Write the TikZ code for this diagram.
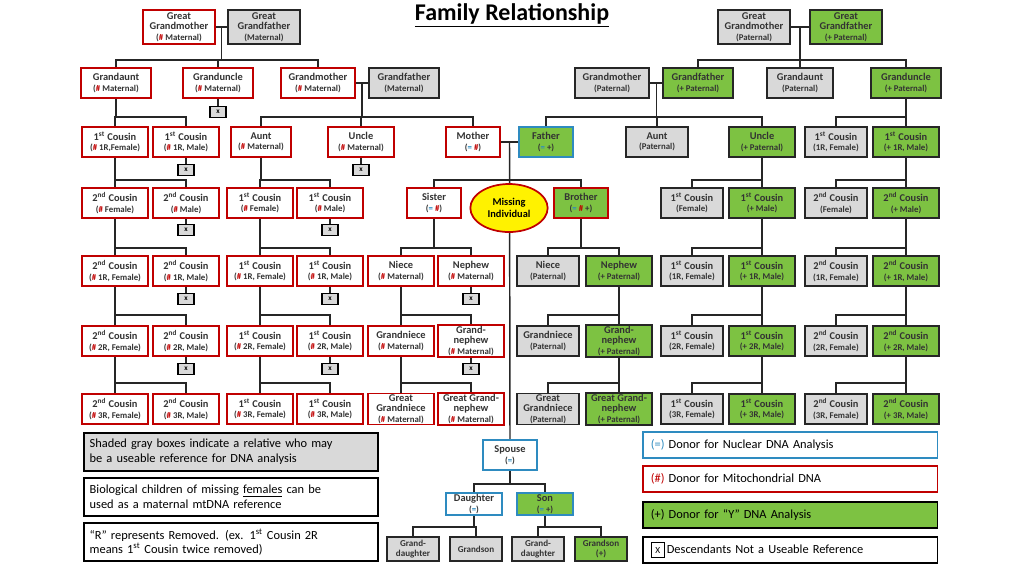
\documentclass[tikz,border=0pt]{standalone}
\usepackage{fontspec}
\setmainfont{Carlito}
\usetikzlibrary{positioning, calc, shapes, backgrounds}
\definecolor{hashred}{HTML}{C00000}
\definecolor{nucblue}{HTML}{2E8BC0}
\definecolor{ygreen}{HTML}{7DC242}
\definecolor{refgray}{HTML}{D9D9D9}
\definecolor{missyellow}{HTML}{FFF200}
\newcommand{\hs}{\textcolor{hashred}{\#}}
\newcommand{\eq}{\textcolor{nucblue}{=}}
\newcommand{\sm}[1]{\\{\fontsize{6.6}{7}\selectfont #1}}
% parent point, bar y, children
\newcommand{\kin}[3]{\draw (#1) -- (#1 |- 0,#2);
  \foreach \c in {#3} {\draw (#1 |- 0,#2) -| (\c.north);}}
\tikzset{
  rel/.style={draw, line width=1.3pt, align=center, inner sep=0.6pt,
    minimum width=49pt, minimum height=22pt,
    font=\bfseries\fontsize{7.8}{7.9}\selectfont, text=black!80},
  mat/.style={rel, draw=hashred, fill=white},
  pat/.style={rel, draw=black!85, fill=refgray},
  ypat/.style={rel, draw=black!85, fill=ygreen},
  nuc/.style={rel, draw=nucblue, fill=white},
  xbox/.style={draw, fill=refgray, line width=.9pt, minimum width=12pt,
    minimum height=8pt, inner sep=0pt, font=\bfseries\fontsize{5.5}{6}\selectfont},
  legbox/.style={draw, line width=1.3pt, align=left, text width=212pt,
    inner sep=4pt, minimum height=29pt, font=\fontsize{9.3}{11}\selectfont},
  keybox/.style={draw, line width=1.3pt, anchor=west, minimum width=221pt,
    minimum height=19pt, inner xsep=6pt, text width=209pt,
    font=\fontsize{9.3}{10}\selectfont},
  link/.style={line width=1.1pt, black!85}
}
\begin{document}
\begin{tikzpicture}[x=0.75pt, y=-0.75pt]
\useasboundingbox (0,0) rectangle (1024,576);
\node[font=\bfseries\fontsize{18}{20}\selectfont] (title) at (512,15) {\underline{Family Relationship}};
% maternal side
\node[mat, minimum width=54pt, minimum height=26pt] (ggmM) at (179,27) {Great\\Grandmother\sm{(\hs{} Maternal)}};
\node[pat, minimum width=54pt, minimum height=26pt] (ggfM) at (264,27) {Great\\Grandfather\sm{(Maternal)}};
\node[mat, minimum width=53pt] (gauntM) at (116,83) {Grandaunt\sm{(\hs{} Maternal)}};
\node[mat, minimum width=53pt] (guncM) at (218,83) {Granduncle\sm{(\hs{} Maternal)}};
\node[mat, minimum width=56pt] (gmM) at (318,83) {Grandmother\sm{(\hs{} Maternal)}};
\node[pat, minimum width=53pt] (gfM) at (404,83) {Grandfather\sm{(Maternal)}};
\node[mat] (c1rfM) at (115,142) {1\textsuperscript{st} Cousin\sm{(\hs{} 1R,Female)}};
\node[mat] (c1rmM) at (186,142) {1\textsuperscript{st} Cousin\sm{(\hs{} 1R, Male)}};
\node[mat, minimum width=45pt] (auntM) at (261,142) {Aunt\sm{(\hs{} Maternal)}};
\node[mat] (uncM) at (361,142) {Uncle\sm{(\hs{} Maternal)}};
\node[mat, minimum width=40pt] (mother) at (473,142) {Mother\sm{(\eq{} \hs)}};
\node[nuc, draw=nucblue, fill=ygreen, minimum width=40pt] (father) at (546,142) {Father\sm{(\eq{} +)}};
\node[mat] (c2fM) at (115,203) {2\textsuperscript{nd} Cousin\sm{(\hs{} Female)}};
\node[mat] (c2mM) at (186,203) {2\textsuperscript{nd} Cousin\sm{(\hs{} Male)}};
\node[mat] (c1fM) at (260,203) {1\textsuperscript{st} Cousin\sm{(\hs{} Female)}};
\node[mat] (c1mM) at (330,203) {1\textsuperscript{st} Cousin\sm{(\hs{} Male)}};
\node[mat, minimum width=40pt] (sister) at (434,203) {Sister\sm{(\eq{} \hs)}};
\node[ellipse, draw=hashred, fill=missyellow, line width=1.3pt, minimum width=58pt, minimum height=36pt,
  inner sep=0pt, align=center, font=\bfseries\fontsize{7.8}{8.5}\selectfont] (missing) at (509,208) {Missing\\Individual};
\node[mat, fill=ygreen, minimum width=40pt] (brother) at (581,203) {Brother\sm{(\eq{} \hs{} +)}};
\node[mat] (c2r1fM) at (115,271) {2\textsuperscript{nd} Cousin\sm{(\hs{} 1R, Female)}};
\node[mat] (c2r1mM) at (186,271) {2\textsuperscript{nd} Cousin\sm{(\hs{} 1R, Male)}};
\node[mat] (c1r1fM) at (260,271) {1\textsuperscript{st} Cousin\sm{(\hs{} 1R, Female)}};
\node[mat] (c1r1mM) at (330,271) {1\textsuperscript{st} Cousin\sm{(\hs{} 1R, Male)}};
\node[mat] (nieceM) at (401,271) {Niece\sm{(\hs{} Maternal)}};
\node[mat] (nephM) at (471,271) {Nephew\sm{(\hs{} Maternal)}};
\node[mat] (c2r2fM) at (115,341) {2\textsuperscript{nd} Cousin\sm{(\hs{} 2R, Female)}};
\node[mat] (c2r2mM) at (186,341) {2\textsuperscript{nd} Cousin\sm{(\hs{} 2R, Male)}};
\node[mat] (c1r2fM) at (260,341) {1\textsuperscript{st} Cousin\sm{(\hs{} 2R, Female)}};
\node[mat] (c1r2mM) at (330,341) {1\textsuperscript{st} Cousin\sm{(\hs{} 2R, Male)}};
\node[mat] (gnieceM) at (401,341) {Grandniece\sm{(\hs{} Maternal)}};
\node[mat] (gnephM) at (471,341) {Grand-\\nephew\sm{(\hs{} Maternal)}};
\node[mat] (c2r3fM) at (115,409) {2\textsuperscript{nd} Cousin\sm{(\hs{} 3R, Female)}};
\node[mat] (c2r3mM) at (186,409) {2\textsuperscript{nd} Cousin\sm{(\hs{} 3R, Male)}};
\node[mat] (c1r3fM) at (260,409) {1\textsuperscript{st} Cousin\sm{(\hs{} 3R, Female)}};
\node[mat] (c1r3mM) at (330,409) {1\textsuperscript{st} Cousin\sm{(\hs{} 3R, Male)}};
\node[mat] (ggnieceM) at (401,409) {Great\\Grandniece\sm{(\hs{} Maternal)}};
\node[mat] (ggnephM) at (471,409) {Great Grand-\\nephew\sm{(\hs{} Maternal)}};
% paternal side
\node[pat, minimum width=54pt, minimum height=26pt] (ggmP) at (754,27) {Great\\Grandmother\sm{(Paternal)}};
\node[ypat, minimum width=54pt, minimum height=26pt] (ggfP) at (846,27) {Great\\Grandfather\sm{(+ Paternal)}};
\node[pat, minimum width=56pt] (gmP) at (612,83) {Grandmother\sm{(Paternal)}};
\node[ypat, minimum width=52pt] (gfP) at (698,83) {Grandfather\sm{(+ Paternal)}};
\node[pat] (gauntP) at (800,83) {Grandaunt\sm{(Paternal)}};
\node[ypat, minimum width=53pt] (guncP) at (906,83) {Granduncle\sm{(+ Paternal)}};
\node[pat, minimum width=47pt] (auntP) at (657,142) {Aunt\sm{(Paternal)}};
\node[ypat] (uncP) at (762,142) {Uncle\sm{(+ Paternal)}};
\node[pat, minimum width=47pt] (c1rfP) at (836,142) {1\textsuperscript{st} Cousin\sm{(1R, Female)}};
\node[ypat] (c1rmP) at (906,142) {1\textsuperscript{st} Cousin\sm{(+ 1R, Male)}};
\node[pat, minimum width=47pt] (c1fP) at (692,203) {1\textsuperscript{st} Cousin\sm{(Female)}};
\node[ypat] (c1mP) at (762,203) {1\textsuperscript{st} Cousin\sm{(+ Male)}};
\node[pat, minimum width=47pt] (c2fP) at (836,203) {2\textsuperscript{nd} Cousin\sm{(Female)}};
\node[ypat] (c2mP) at (906,203) {2\textsuperscript{nd} Cousin\sm{(+ Male)}};
\node[pat, minimum width=47pt] (nieceP) at (548,271) {Niece\sm{(Paternal)}};
\node[ypat] (nephP) at (619,271) {Nephew\sm{(+ Paternal)}};
\node[pat, minimum width=47pt] (c1r1fP) at (692,271) {1\textsuperscript{st} Cousin\sm{(1R, Female)}};
\node[ypat] (c1r1mP) at (762,271) {1\textsuperscript{st} Cousin\sm{(+ 1R, Male)}};
\node[pat, minimum width=47pt] (c2r1fP) at (836,271) {2\textsuperscript{nd} Cousin\sm{(1R, Female)}};
\node[ypat] (c2r1mP) at (906,271) {2\textsuperscript{nd} Cousin\sm{(+ 1R, Male)}};
\node[pat, minimum width=47pt] (gnieceP) at (548,341) {Grandniece\sm{(Paternal)}};
\node[ypat] (gnephP) at (619,341) {Grand-\\nephew\sm{(+ Paternal)}};
\node[pat, minimum width=47pt] (c1r2fP) at (692,341) {1\textsuperscript{st} Cousin\sm{(2R, Female)}};
\node[ypat] (c1r2mP) at (762,341) {1\textsuperscript{st} Cousin\sm{(+ 2R, Male)}};
\node[pat, minimum width=47pt] (c2r2fP) at (836,341) {2\textsuperscript{nd} Cousin\sm{(2R, Female)}};
\node[ypat] (c2r2mP) at (906,341) {2\textsuperscript{nd} Cousin\sm{(+ 2R, Male)}};
\node[pat, minimum width=47pt] (ggnieceP) at (548,409) {Great\\Grandniece\sm{(Paternal)}};
\node[ypat] (ggnephP) at (619,409) {Great Grand-\\nephew\sm{(+ Paternal)}};
\node[pat, minimum width=47pt] (c1r3fP) at (692,409) {1\textsuperscript{st} Cousin\sm{(3R, Female)}};
\node[ypat] (c1r3mP) at (762,409) {1\textsuperscript{st} Cousin\sm{(+ 3R, Male)}};
\node[pat, minimum width=47pt] (c2r3fP) at (836,409) {2\textsuperscript{nd} Cousin\sm{(3R, Female)}};
\node[ypat] (c2r3mP) at (906,409) {2\textsuperscript{nd} Cousin\sm{(+ 3R, Male)}};
% descendants of the missing individual
\node[nuc, minimum width=40pt] (spouse) at (510,455) {Spouse\sm{(\eq)}};
\node[nuc, minimum width=42pt, minimum height=17pt] (daughter) at (474,504) {Daughter\sm{(\eq)}};
\node[nuc, draw=nucblue, fill=ygreen, minimum width=42pt, minimum height=17pt] (son) at (545,504) {Son\sm{(\eq{} +)}};
\node[pat, minimum width=39pt, minimum height=18pt, font=\bfseries\fontsize{6.8}{7.2}\selectfont] (gdau1) at (413,549) {Grand-\\daughter};
\node[pat, minimum width=39pt, minimum height=18pt, font=\bfseries\fontsize{6.8}{7.2}\selectfont] (gson1) at (476,549) {Grandson};
\node[pat, minimum width=39pt, minimum height=18pt, font=\bfseries\fontsize{6.8}{7.2}\selectfont] (gdau2) at (538,549) {Grand-\\daughter};
\node[ypat, minimum width=39pt, minimum height=18pt, font=\bfseries\fontsize{6.8}{7.2}\selectfont] (gson2) at (601,549) {Grandson\\(+)};
% X boxes
\foreach \n/\x/\y in {x0/218/112, x1/186/170, x2/361/170, x3/186/230, x4/330/230,
  x5/186/299, x6/330/299, x7/471/299, x8/186/369, x9/330/369, x10/471/369}
  \node[xbox] (\n) at (\x,\y) {x};
% legend
\node[legbox, fill=refgray] (legshade) at (231,452) {Shaded gray boxes indicate a relative who may\\be a useable reference for DNA analysis};
\node[legbox] (legbio) at (231,497) {Biological children of missing \underline{females} can be\\used as a maternal mtDNA reference};
\node[legbox] (legrem) at (231,542) {``R'' represents Removed. (ex. 1\textsuperscript{st} Cousin 2R\\means 1\textsuperscript{st} Cousin twice removed)};
\node[keybox, draw=nucblue] (keynuc) at (642,445) {\textcolor{nucblue}{(=)} Donor for Nuclear DNA Analysis};
\node[keybox, draw=hashred] (keymt) at (642,479) {\textcolor{hashred}{(\#)} Donor for Mitochondrial DNA};
\node[keybox, fill=ygreen] (keyy) at (642,515) {(+) Donor for ``Y'' DNA Analysis};
\node[keybox] (keyx) at (642,550) {\fbox{\scriptsize X}\,Descendants Not a Useable Reference};
% connectors
\begin{pgfonlayer}{background}
\begin{scope}[link]
\draw (ggmM) -- (ggfM); \draw (gmM) -- (gfM); \draw (mother) -- (father);
\draw (ggmP) -- (ggfP); \draw (gmP) -- (gfP);
\coordinate (cpGM) at ($(ggmM.east)!.5!(ggfM.west)$);
\coordinate (cpM) at ($(gmM.east)!.5!(gfM.west)$);
\coordinate (cpP) at ($(ggmP.east)!.5!(ggfP.west)$);
\coordinate (cpG) at ($(gmP.east)!.5!(gfP.west)$);
\coordinate (cpMF) at ($(mother.east)!.5!(father.west)$);
\kin{cpGM}{60}{gauntM, guncM, gmM}
\kin{cpM}{117}{auntM, uncM, mother}
\kin{cpP}{60}{gfP, gauntP, guncP}
\kin{cpG}{117}{father, auntP, uncP}
\kin{cpMF}{180}{sister, brother}
\draw (cpMF) -- (spouse.north);
\kin{gauntM.south}{117}{c1rfM, c1rmM}
\kin{guncP.south}{117}{c1rfP, c1rmP}
\kin{c1rfM.south}{180}{c2fM, c2mM}
\kin{auntM.south}{180}{c1fM, c1mM}
\kin{uncP.south}{180}{c1fP, c1mP}
\kin{c1rmP.south}{180}{c2fP, c2mP}
\kin{c2fM.south}{248}{c2r1fM, c2r1mM}
\kin{c1fM.south}{248}{c1r1fM, c1r1mM}
\kin{sister.south}{248}{nieceM, nephM}
\kin{brother.south}{248}{nieceP, nephP}
\kin{c1mP.south}{248}{c1r1fP, c1r1mP}
\kin{c2mP.south}{248}{c2r1fP, c2r1mP}
\kin{c2r1fM.south}{315}{c2r2fM, c2r2mM}
\kin{c1r1fM.south}{315}{c1r2fM, c1r2mM}
\kin{nieceM.south}{315}{gnieceM, gnephM}
\kin{nephP.south}{315}{gnieceP, gnephP}
\kin{c1r1mP.south}{315}{c1r2fP, c1r2mP}
\kin{c2r1mP.south}{315}{c2r2fP, c2r2mP}
\kin{c2r2fM.south}{383}{c2r3fM, c2r3mM}
\kin{c1r2fM.south}{383}{c1r3fM, c1r3mM}
\kin{gnieceM.south}{383}{ggnieceM, ggnephM}
\kin{gnephP.south}{383}{ggnieceP, ggnephP}
\kin{c1r2mP.south}{383}{c1r3fP, c1r3mP}
\kin{c2r2mP.south}{383}{c2r3fP, c2r3mP}
\kin{spouse.south}{484}{daughter, son}
\kin{daughter.south}{527}{gdau1, gson1}
\kin{son.south}{527}{gdau2, gson2}
\foreach \p/\n in {guncM/x0, c1rmM/x1, uncM/x2, c2mM/x3, c1mM/x4, c2r1mM/x5,
  c1r1mM/x6, nephM/x7, c2r2mM/x8, c1r2mM/x9, gnephM/x10}
  \draw (\p.south) -- (\n.north);
\end{scope}
\end{pgfonlayer}
\end{tikzpicture}
\end{document}
